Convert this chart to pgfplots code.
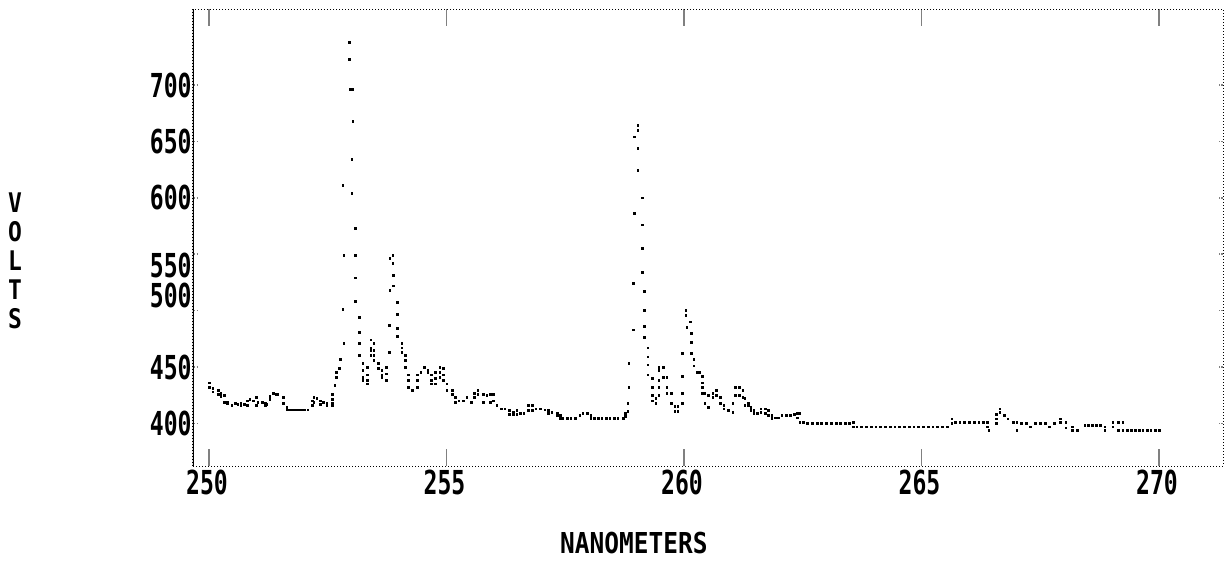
\documentclass[border=0pt]{standalone}
\usepackage{pgfplots}
\pgfplotsset{compat=1.18}
\usepackage{fontspec}
\setmainfont{DejaVu Sans Mono}
\newfontfamily\tickfont[FakeStretch=0.7]{DejaVu Sans Mono Bold}
\newfontfamily\labfont[FakeStretch=0.85]{DejaVu Sans Mono Bold}
\pgfplotstableread{
x y
250.00 436
250.00 432
250.08 431
250.08 428
250.19 429
250.19 426
250.25 427
250.25 424
250.32 425
250.32 419
250.38 419
250.38 418
250.48 416
250.55 418
250.61 417
250.67 418
250.67 416
250.74 417
250.80 420
250.80 416
250.86 421
250.93 420
250.99 423
250.99 416
251.03 419
251.12 419
251.18 418
251.18 416
251.22 417
251.28 424
251.28 421
251.35 427
251.41 426
251.45 426
251.56 423
251.56 418
251.64 414
251.64 412
251.68 412
251.74 412
251.79 412
251.84 412
251.89 412
251.95 412
252.00 412
252.08 412
252.17 420
252.17 416
252.21 423
252.21 419
252.27 422
252.34 420
252.34 417
252.40 419
252.48 418
252.48 416
252.59 426
252.59 421
252.59 418
252.59 416
252.65 434
252.69 445
252.69 441
252.74 449
252.76 457
252.84 471
252.82 501
252.84 549
252.82 611
252.95 723
252.95 738
252.97 696
253.03 696
253.03 668
253.01 634
253.01 604
253.09 573
253.09 549
253.09 529
253.09 508
253.16 494
253.16 481
253.16 471
253.16 460
253.24 453
253.24 447
253.24 441
253.24 438
253.33 450
253.33 443
253.33 438
253.33 435
253.41 474
253.41 467
253.41 465
253.41 460
253.47 471
253.47 465
253.47 460
253.47 456
253.56 453
253.56 449
253.64 447
253.64 443
253.64 441
253.73 450
253.73 444
253.73 438
253.79 463
253.79 487
253.81 518
253.81 546
253.87 549
253.87 542
253.89 531
253.89 522
253.96 507
253.96 497
253.96 484
253.96 477
254.06 471
254.06 467
254.06 463
254.13 460
254.13 456
254.13 450
254.19 443
254.19 438
254.19 432
254.29 429
254.38 443
254.38 438
254.38 432
254.46 445
254.53 450
254.61 447
254.61 445
254.69 443
254.69 438
254.69 435
254.76 445
254.76 440
254.76 435
254.86 450
254.86 445
254.86 441
254.93 449
254.93 443
254.93 438
255.01 435
255.01 429
255.12 429
255.12 426
255.18 423
255.18 419
255.26 420
255.35 420
255.43 423
255.52 419
255.58 427
255.58 423
255.66 429
255.66 426
255.77 426
255.77 419
255.85 425
255.92 426
255.92 419
255.98 426
255.98 420
256.06 416
256.15 413
256.23 413
256.32 411.5
256.32 408
256.40 410
256.40 408
256.48 411.5
256.48 408
256.55 409
256.63 409
256.72 416
256.72 411.5
256.80 416
256.80 411.5
256.88 413
256.97 413
257.07 412
257.14 411.5
257.14 409
257.22 410
257.33 409
257.33 407
257.39 407
257.39 404.4
257.45 404.4
257.54 404.4
257.62 404.4
257.71 404.4
257.81 407
257.87 409
257.96 409
258.04 407
258.04 404.4
258.11 404.4
258.19 404.4
258.27 404.4
258.36 404.4
258.44 404.4
258.53 404.4
258.61 404.4
258.72 404.4
258.76 409
258.76 406
258.82 411
258.82 418
258.84 432
258.84 453
258.93 483
258.93 524
258.95 586
258.95 654
259.03 664
259.03 660
259.03 644
259.03 624
259.12 600
259.12 576
259.12 555
259.12 534
259.16 517
259.16 500
259.16 486
259.16 476
259.24 467
259.24 459
259.24 452
259.24 443
259.33 440
259.33 432
259.33 425
259.33 420
259.41 422
259.41 418
259.47 450
259.47 447
259.47 438
259.47 432
259.47 425
259.56 450
259.56 441
259.64 441
259.64 432
259.64 427
259.73 427
259.73 418
259.81 415
259.81 411
259.87 415
259.87 411
259.96 418
259.96 427
259.96 442
259.96 462
260.04 496
260.04 500
260.06 485
260.13 490
260.15 480
260.15 472
260.15 462
260.21 457
260.21 451
260.27 445
260.32 445
260.38 442
260.38 436
260.38 432
260.38 427
260.44 427
260.44 418
260.51 425
260.51 414
260.61 427
260.61 423
260.69 429
260.69 425
260.76 423
260.76 418
260.84 416
260.84 413
260.93 411.5
261.03 418
261.03 410
261.09 432
261.09 425
261.16 432
261.16 425
261.24 429
261.24 423
261.28 422
261.28 416
261.35 418
261.35 416
261.41 414
261.41 411.5
261.47 411.5
261.47 409
261.54 409
261.62 413
261.62 410
261.71 413
261.71 409
261.77 411.5
261.77 407
261.85 407
261.85 404.4
261.92 405
261.98 405
262.06 407
262.15 407
262.24 407
262.32 408
262.38 409
262.38 405
262.44 409
262.44 401
262.51 401
262.60 400
262.70 400
262.80 400
262.90 400
263.00 400
263.10 400
263.20 400
263.30 400
263.40 400
263.49 400
263.56 401
263.56 397
263.64 397
263.74 397
263.84 397
263.94 397
264.04 397
264.14 397
264.24 397
264.34 397
264.44 397
264.54 397
264.64 397
264.74 397
264.84 397
264.94 397
265.04 397
265.14 397
265.24 397
265.34 397
265.44 397
265.54 397
265.64 404
265.64 400
265.71 401
265.81 401
265.91 401
266.01 401
266.11 401
266.21 401
266.30 401
266.38 401
266.38 397
266.42 394
266.57 408
266.57 404
266.57 400
266.65 413
266.65 410
266.74 407
266.82 404
266.93 401
267.01 401
267.01 394
267.10 400
267.20 400
267.30 397
267.40 400
267.50 400
267.60 400
267.70 397
267.80 400
267.92 404
267.92 401
268.04 401
268.04 396
268.17 397
268.17 394
268.29 394
268.44 398
268.52 398
268.60 398
268.68 398
268.76 398
268.86 397
268.86 394
269.03 401
269.03 397
269.14 401
269.14 394
269.24 401
269.24 394
269.33 394
269.42 394
269.50 394
269.58 394
269.66 394
269.75 394
269.83 394
269.92 394
270.00 394
}\spectrum
\begin{document}
\begin{tikzpicture}
\begin{axis}[
  at={(0,0)}, anchor=south west,
  scale only axis, width=515pt, height=228.5pt,
  xmin=249.663, xmax=271.347, ymin=362.3, ymax=767.4,
  xtick={250,255,260,265,270}, xticklabels={250,255,260,265,270},
  ytick={400,450,500,550,600,650,700},
  yticklabels={400,450,\raisebox{7.5pt}[\height][\depth]{500},\raisebox{-5.5pt}[\height][\depth]{550},600,650,700},
  tick align=inside,
  x tick style={/pgfplots/major tick length=8.5pt, line width=0.7pt},
  y tick style={/pgfplots/major tick length=2.2pt, line width=0.8pt, densely dotted},
  axis line style={densely dotted, line width=0.5pt},
  ticklabel style={font=\tickfont\fontsize{16.5}{18}\selectfont},
  xticklabel style={inner sep=0pt, yshift=-2pt, xshift=-1pt},
  yticklabel style={inner sep=0.5pt},
  xlabel={NANOMETERS},
  xlabel style={at={(axis description cs:0.428,0)}, anchor=north, yshift=-33pt, inner sep=0pt, font=\labfont\fontsize{14.4}{16}\selectfont},
  ylabel={V\\O\\L\\T\\S},
  ylabel style={at={(axis description cs:0,0.45)}, rotate=-90, anchor=center, xshift=-89pt, align=center, inner sep=0pt, font=\labfont\fontsize{13.5}{14.5}\selectfont},
]
\addplot[only marks, mark=square*, mark size=0.45pt, black] table {\spectrum};
\draw[line width=0.9pt] (rel axis cs:0,0) -- (rel axis cs:0,1);
\end{axis}
\pgfresetboundingbox
\path[use as bounding box] (-96.5pt,-48.5pt) rectangle (516pt,233pt);
\end{tikzpicture}
\end{document}
